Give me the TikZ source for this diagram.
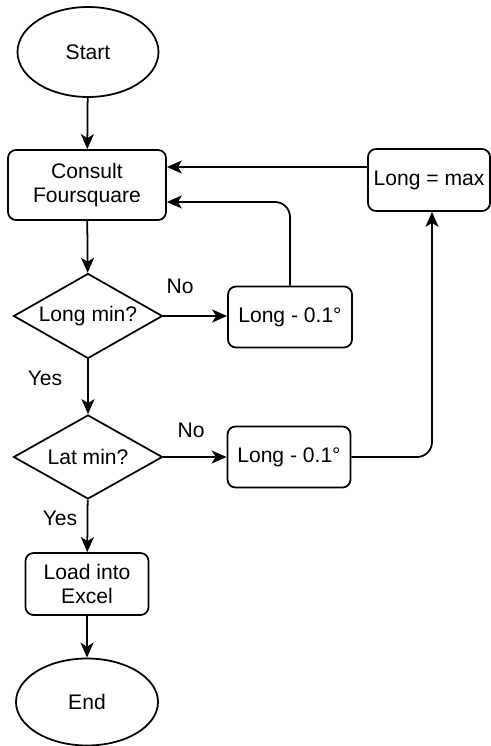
\documentclass[tikz,border=0pt]{standalone}
\usepackage{fontspec}
\setmainfont{Liberation Sans}
\usetikzlibrary{arrows.meta, shapes.geometric, calc}

\tikzset{
  terminal/.style={draw, ellipse, line width=1pt, inner sep=0pt},
  process/.style={draw, rectangle, rounded corners=1.6mm, line width=1pt, align=center, inner sep=0pt},
  decision/.style={draw, diamond, line width=1pt, inner sep=0pt, aspect=1.75},
  flow/.style={line width=1pt, -{Stealth[length=3mm, width=2.6mm, inset=0.8mm]}}
}

\begin{document}
\begin{tikzpicture}[x=0.2mm, y=-0.2mm, font=\fontsize{12}{13.5}\selectfont]
\useasboundingbox (0,0) rectangle (490,746);

% main column
\node[terminal, minimum width=28.2mm, minimum height=18mm] (start) at (88,52) {Start};
\node[process, minimum width=31.6mm, minimum height=14mm] (consult) at (87,185) {Consult\\Foursquare};
\node[decision, minimum width=29.8mm, minimum height=17mm] (longmin) at (88,316) {Long min?};
\node[decision, minimum width=29.8mm, minimum height=16.8mm] (latmin) at (88,457) {Lat min?};
\node[process, minimum width=24.6mm, minimum height=12.4mm] (load) at (87,584) {Load into\\Excel};
\node[terminal, minimum width=28.4mm, minimum height=17.4mm] (end) at (87,702) {End};

% side boxes
\node[process, minimum width=24.8mm, minimum height=12.2mm] (declong) at (290,317) {Long - 0.1\textdegree};
\node[process, minimum width=24.6mm, minimum height=12.2mm] (declat) at (289,457) {Long - 0.1\textdegree};
\node[process, minimum width=24.4mm, minimum height=12.4mm] (longmax) at (429,180) {Long = max};

% labels
\node (nolong) at (180,286) {No};
\node (yeslong) at (45,378) {Yes};
\node (nolat) at (191,430) {No};
\node (yeslat) at (60,518) {Yes};

\draw[flow] (start) -- (consult);
\draw[flow] (consult) -- (longmin);
\draw[flow] (longmin) -- (latmin);
\draw[flow] (latmin) -- (load);
\draw[flow] (load) -- (end);

\draw[flow] (longmin.east) -- (declong.west |- longmin.east);
\draw[flow] (latmin.east) -- (declat.west |- latmin.east);

\draw[flow, rounded corners=3mm] (declong.north) |- ($(consult.east)+(0,17)$);
\draw[flow] (longmax.west |- 0,167) -- (consult.east |- 0,167);
\draw[flow, rounded corners=3mm] (declat.east) -| ($(longmax.south)+(3,0)$);
\end{tikzpicture}
\end{document}
